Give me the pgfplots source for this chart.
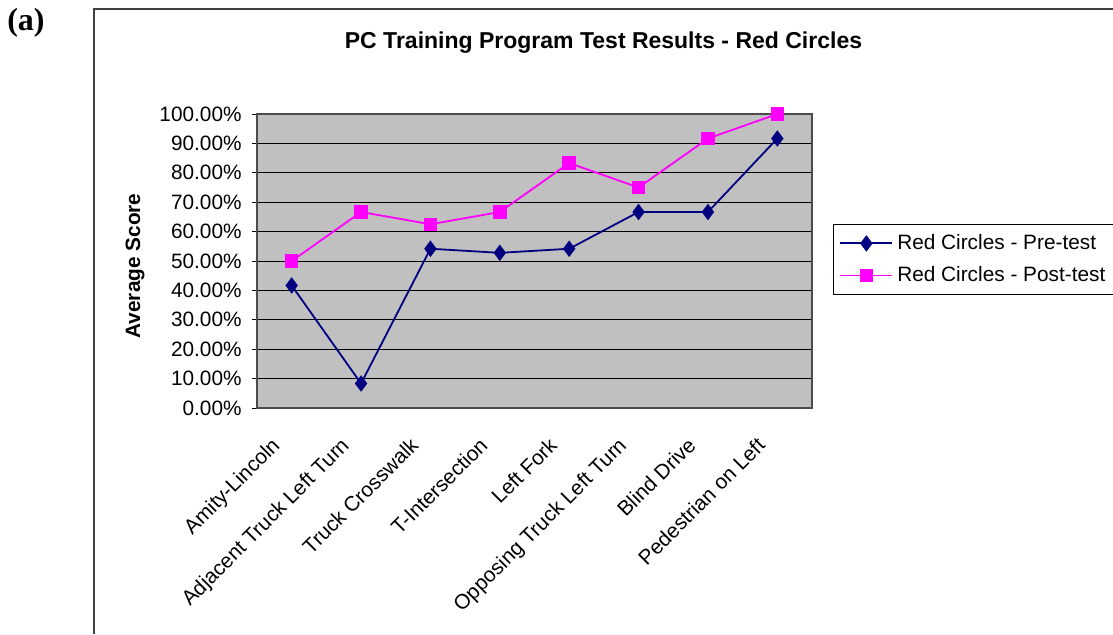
\documentclass[border=0pt]{standalone}
\usepackage{pgfplots}
\pgfplotsset{compat=1.18}
\usepackage{fontspec}
\setmainfont{Liberation Sans}
\newfontfamily\serifbold{Liberation Serif}
\definecolor{navy}{HTML}{000080}
\definecolor{mag}{HTML}{FF00FF}
\definecolor{plotgray}{HTML}{C0C0C0}
\begin{document}
\begin{tikzpicture}
\useasboundingbox (0pt,0pt) rectangle (556.5pt,317pt);
% outer chart border (clipped by image)
\draw[line width=1pt, black!75] (47pt,0pt) -- (47pt,312.5pt) -- (556.5pt,312.5pt);
\node[font=\serifbold\bfseries\fontsize{16}{18}\selectfont, anchor=center] at (13pt,305.5pt) {(a)};
\node[font=\bfseries\fontsize{11.5}{13}\selectfont] at (301.75pt,295.5pt) {PC Training Program Test Results - Red Circles};
\begin{axis}[
  at={(128.5pt,113pt)}, anchor=south west,
  scale only axis, width=277.5pt, height=147pt,
  xmin=-0.5, xmax=7.5, ymin=0, ymax=100,
  axis background/.style={fill=plotgray},
  axis line style={draw=black!70, line width=0.6pt},
  ymajorgrids, grid style={black, line width=0.5pt},
  tick pos=left,
  ytick={0,10,...,100},
  yticklabels={0.00\%,10.00\%,20.00\%,30.00\%,40.00\%,50.00\%,60.00\%,70.00\%,80.00\%,90.00\%,100.00\%},
  xtick={0,...,7},
  xticklabels={Amity-Lincoln,Adjacent Truck Left Turn,Truck Crosswalk,T-Intersection,Left Fork,Opposing Truck Left Turn,Blind Drive,Pedestrian on Left},
  xtick style={draw=none},
  minor xtick={-0.5,0.5,...,7.5},
  minor x tick style={black, line width=0.5pt},
  ytick style={black, line width=0.5pt},
  tick align=outside, major tick length=2.5pt, minor tick length=2.5pt,
  tick label style={font=\fontsize{10.4}{12}\selectfont},
  x tick label style={xshift=-10.8pt, yshift=-9.9pt, rotate=45, anchor=north east, inner sep=1pt},
  y tick label style={inner sep=2pt, xshift=-3pt},
  ylabel={Average Score},
  every axis y label/.style={rotate=90, anchor=center, at={(-61pt,71pt)}, font=\bfseries\fontsize{10.4}{12}\selectfont},
  legend style={at={(1.038,0.626)}, anchor=north west, draw=black, line width=0.4pt, fill=white,
    font=\fontsize{10.4}{12}\selectfont, inner xsep=3pt, inner ysep=3pt, row sep=3pt,
    cells={anchor=west}},
  legend image code/.code={\draw[mark repeat=2, mark phase=2, #1] plot coordinates {(0pt,0pt) (13pt,0pt) (26pt,0pt)};},
  clip=false,
]
\addplot[navy, line width=0.9pt, mark=diamond*, mark size=3.4pt, mark options={fill=navy}]
  coordinates {(0,41.67) (1,8.33) (2,54.17) (3,52.78) (4,54.17) (5,66.67) (6,66.67) (7,91.67)};
\addlegendentry{Red Circles - Pre-test}
\addplot[mag, line width=0.9pt, mark=square*, mark size=2.9pt, mark options={fill=mag}]
  coordinates {(0,50) (1,66.67) (2,62.5) (3,66.67) (4,83.33) (5,75) (6,91.67) (7,100)};
\addlegendentry{Red Circles - Post-test}
\end{axis}
\end{tikzpicture}
\end{document}
